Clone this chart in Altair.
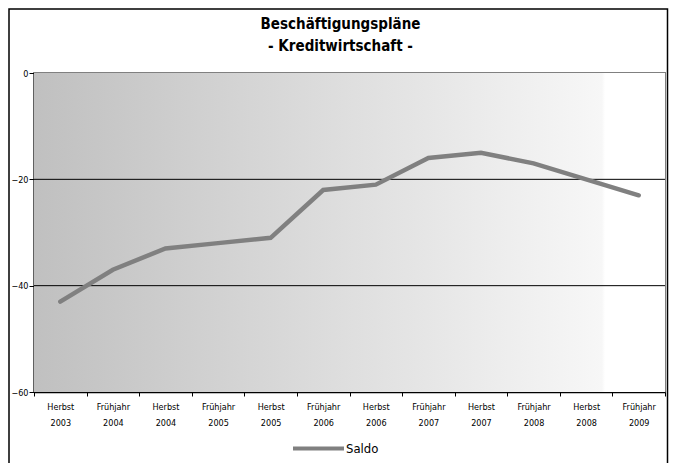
import altair as alt
import pandas as pd

periods = ["Herbst 2003", "Frühjahr 2004", "Herbst 2004", "Frühjahr 2005", "Herbst 2005",
           "Frühjahr 2006", "Herbst 2006", "Frühjahr 2007", "Herbst 2007", "Frühjahr 2008",
           "Herbst 2008", "Frühjahr 2009"]
saldo = [-43, -37, -33, -32, -31, -22, -21, -16, -15, -17, -20, -23]
series = ["Saldo"] * len(periods)
y_ticks = [0, -20, -40, -60]
grid_values = [-20, -40]
title_lines = ["Beschäftigungspläne", "- Kreditwirtschaft -"]

df = pd.DataFrame({"period": periods, "saldo": saldo, "series": series})
grid_df = pd.DataFrame({"g": grid_values})

FONT = "Liberation Sans Narrow, DejaVu Sans Condensed, sans-serif"
W, H = 631, 319

grad = alt.LinearGradient(
    gradient="linear", x1=0, x2=1, y1=0, y2=0,
    stops=[alt.GradientStop(color="#c0c0c0", offset=0),
           alt.GradientStop(color="#f7f7f7", offset=0.9),
           alt.GradientStop(color="#ffffff", offset=0.905),
           alt.GradientStop(color="#ffffff", offset=1)])

bg = alt.Chart(alt.Data(values=[{}])).mark_rect(color=grad).encode(
    x=alt.value(0), x2=alt.value(W), y=alt.value(0), y2=alt.value(H))

grid = alt.Chart(grid_df).mark_rule(color="black", strokeWidth=1).encode(
    y=alt.Y("g:Q"))

frame = alt.Chart(alt.Data(values=[{}])).mark_rect(
    fill=None, stroke="black", strokeWidth=1.5).encode(
    x=alt.value(-25), x2=alt.value(633.5), y=alt.value(-64), y2=alt.value(400))

title = alt.Chart(alt.Data(values=[{}])).mark_text(
    text=title_lines, font=FONT, fontSize=15, fontWeight="bold", color="black",
    lineHeight=22, baseline="top", align="center").encode(
    x=alt.value(W / 2 - 9), y=alt.value(-56))

line = alt.Chart(df).mark_line(strokeWidth=4.5, strokeCap="round").encode(
    x=alt.X("period:N", sort=None, title=None,
            scale=alt.Scale(paddingInner=0, paddingOuter=0),
            axis=alt.Axis(labelAngle=0, labelExpr="split(datum.label, ' ')",
                          labelFont=FONT, labelFontSize=9, labelColor="black",
                          labelLineHeight=16, labelPadding=6, labelBaseline="top",
                          tickBand="extent", tickSize=4, tickColor="black",
                          domainColor="black", domainWidth=1.5, grid=False)),
    y=alt.Y("saldo:Q", title=None,
            scale=alt.Scale(domain=[-60, 0], nice=False, zero=False),
            axis=alt.Axis(values=y_ticks, labelFont=FONT, labelFontSize=9,
                          labelColor="black", tickSize=5, tickColor="black",
                          labelPadding=1, domainColor="black", domainWidth=1.5,
                          grid=False)),
    color=alt.Color("series:N", scale=alt.Scale(range=["#808080"]),
                    legend=alt.Legend(title=None, orient="none", legendX=257, legendY=348,
                                      symbolType="stroke", symbolSize=2600,
                                      symbolStrokeWidth=4, labelFont=FONT,
                                      labelFontSize=13, labelColor="black",
                                      labelOffset=0)),
)

chart = alt.layer(bg, grid, line, frame, title).properties(
    width=W, height=H,
    autosize=alt.AutoSizeParams(type="none"),
    padding={"left": 26, "top": 65, "right": 4, "bottom": 71},
).configure_view(stroke="#808080", strokeWidth=2)

chart.save("out.html", embed_options={"renderer": "svg", "actions": False})
